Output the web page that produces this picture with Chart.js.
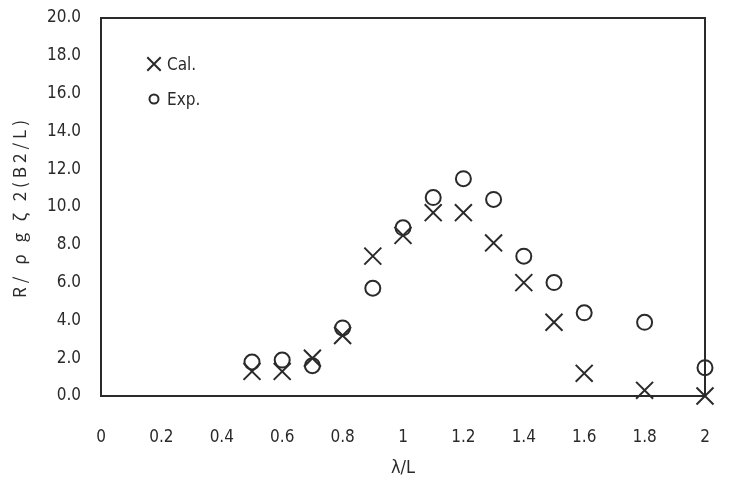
<!DOCTYPE html>
<html lang="ja">
  <head>
    <meta charset="UTF-8" />
    <title>R/ρgζ2 vs λ/L</title>
    <script src="https://cdn.jsdelivr.net/npm/chart.js"></script>
    <style>
      body { margin: 0; background: #fff; }
      #wrap { width: 735px; height: 503px; }
    </style>
  </head>
  <body>
    <div id="wrap"><canvas id="myChart" width="735" height="503"></canvas></div>
    <script>
      // λ/L
      const lambdaL = [0.5, 0.6, 0.7, 0.8, 0.9, 1.0, 1.1, 1.2, 1.3, 1.4, 1.5, 1.6, 1.8, 2.0];
      // 計算値 (×)
      const calValues = [1.3, 1.3, 2.0, 3.2, 7.4, 8.5, 9.7, 9.7, 8.1, 6.0, 3.9, 1.2, 0.3, 0.0];
      // 実験値 (○)
      const expValues = [1.8, 1.9, 1.6, 3.6, 5.7, 8.9, 10.5, 11.5, 10.4, 7.4, 6.0, 4.4, 3.9, 1.5];
      const seriesNames = ["Cal.", "Exp."];
      const yTitle = "R/ ρ g ζ 2(B2/L)";
      const xTitle = "λ/L";

      const font = "'Liberation Sans Narrow', 'DejaVu Sans Condensed', sans-serif";
      const jpFont = "'Noto Sans CJK JP', sans-serif";
      const ink = "#2a2a2a";

      function toPoints(vals) {
        return lambdaL.map((x, i) => ({ x: x, y: vals[i] }));
      }

      // 枠線・凡例（グラフ内左上）・縦軸タイトル
      const framePlugin = {
        id: "frame",
        afterDraw(chart) {
          const { ctx, chartArea: a } = chart;
          ctx.save();
          ctx.strokeStyle = ink;
          ctx.lineWidth = 2;
          ctx.strokeRect(a.left, a.top, a.right - a.left, a.bottom - a.top);
          // legend
          ctx.font = "17px " + font;
          ctx.textBaseline = "middle";
          const items = [
            { style: "crossRot", r: 9.5, y: 64 },
            { style: "circle", r: 4.5, y: 99 },
          ];
          items.forEach((it, i) => {
            ctx.strokeStyle = ink;
            ctx.fillStyle = "rgba(0,0,0,0)";
            ctx.lineWidth = 2;
            Chart.helpers.drawPoint(ctx, { pointStyle: it.style, radius: it.r, borderWidth: 2 }, 154, it.y);
            ctx.fillStyle = ink;
            ctx.fillText(seriesNames[i], 167, it.y + 2);
          });
          // y title (wide letter spacing like the original)
          ctx.translate(20, 207);
          ctx.rotate(-Math.PI / 2);
          ctx.font = "17px " + jpFont;
          ctx.letterSpacing = "4px";
          ctx.textAlign = "center";
          ctx.fillText(yTitle, 0, 0);
          ctx.restore();
        },
      };

      const ctx = document.getElementById("myChart").getContext("2d");
      const myChart = new Chart(ctx, {
        type: "scatter",
        data: {
          datasets: [
            {
              label: seriesNames[0],
              data: toPoints(calValues),
              pointStyle: "crossRot",
              pointRadius: 12,
              borderColor: ink,
              backgroundColor: ink,
              borderWidth: 2,
              clip: false,
            },
            {
              label: seriesNames[1],
              data: toPoints(expValues),
              pointStyle: "circle",
              pointRadius: 7.5,
              borderColor: ink,
              backgroundColor: "rgba(0,0,0,0)",
              borderWidth: 2,
              clip: false,
            },
          ],
        },
        options: {
          responsive: false,
          animation: false,
          layout: { autoPadding: false, padding: { top: 18, right: 30, left: 0, bottom: 24 } },
          plugins: {
            legend: { display: false },
            tooltip: { enabled: false },
          },
          scales: {
            x: {
              type: "linear",
              min: 0,
              max: 2,
              grid: { display: false, drawTicks: false },
              border: { display: true, color: ink, width: 2 },
              ticks: {
                stepSize: 0.2,
                padding: 31,
                color: ink,
                font: { family: font, size: 17 },
                callback: (v) => String(Number(v.toFixed(1))),
              },
              title: {
                display: true,
                text: xTitle,
                color: ink,
                font: { family: font, size: 18 },
                padding: 0,
              },
              afterFit(s) {
                s.height = 83;
                s.paddingLeft = 0;
                s.paddingRight = 0;
              },
            },
            y: {
              min: 0,
              max: 20,
              grid: { display: false, drawTicks: false },
              border: { display: true, color: ink, width: 2 },
              ticks: {
                stepSize: 2,
                padding: 20,
                color: ink,
                font: { family: font, size: 17 },
                callback: (v) => v.toFixed(1),
              },
              afterFit(s) {
                s.width = 101;
                s.paddingTop = 0;
                s.paddingBottom = 0;
              },
            },
          },
        },
        plugins: [framePlugin],
      });
    </script>
  </body>
</html>
